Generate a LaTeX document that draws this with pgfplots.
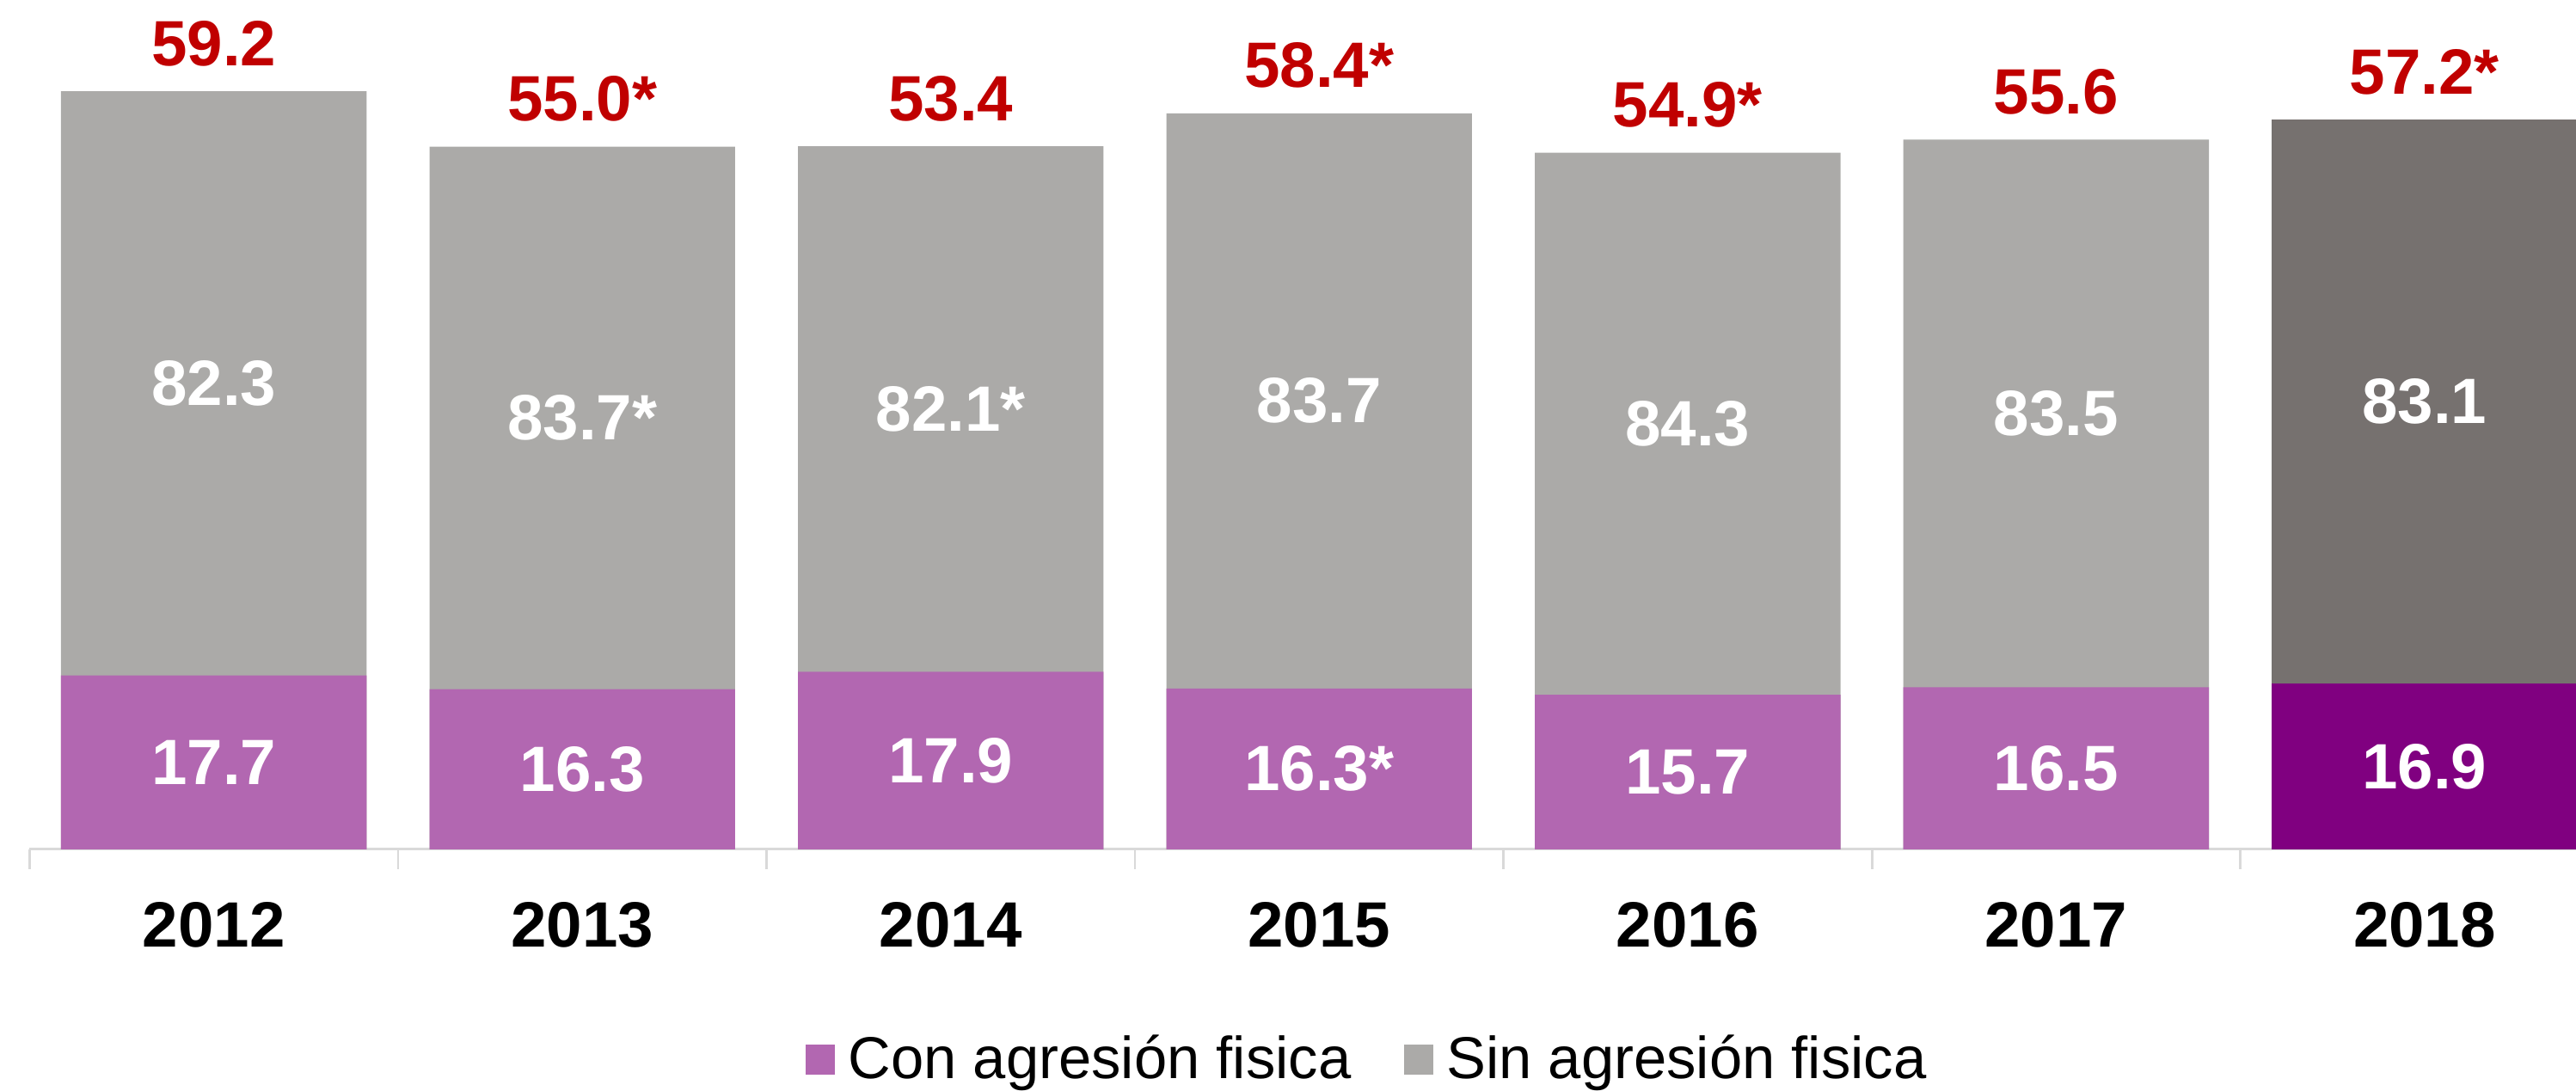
\documentclass[border=0pt]{standalone}
\usepackage{fontspec}
\setmainfont{Liberation Sans}
\usepackage{pgfplots}
\pgfplotsset{compat=1.18}
\definecolor{pinkc}{HTML}{B267B1}
\definecolor{purpc}{HTML}{800080}
\definecolor{grayc}{HTML}{ABAAA8}
\definecolor{darkc}{HTML}{76716F}
\definecolor{redc}{HTML}{C00000}
\definecolor{axgray}{HTML}{D9D9D9}
\newcommand{\lblfont}{\bfseries\fontsize{19.5}{20}\selectfont}
\pgfplotsset{
  mybar/.style={ybar,bar width=93pt,bar shift=0pt,draw=none,forget plot},
  lbl/.style={draw=none,forget plot,nodes near coords,point meta=explicit symbolic},
}

\begin{document}
\begin{tikzpicture}
\begin{axis}[
  scale only axis,width=775pt,height=258.5pt,
  xmin=-0.5,xmax=6.411,ymin=0,ymax=66.33,
  enlargelimits=false,
  axis x line*=bottom,axis y line=none,
  x axis line style={-},
  axis line style={draw=axgray,line width=0.75pt},
  xtick={0,...,6},
  xticklabels={2012,2013,2014,2015,2016,2017,2018},
  xticklabel style={font=\lblfont,inner sep=0pt,yshift=-16pt},
  major tick length=0pt,
  xtick align=outside,
  extra x ticks={-0.5,0.5,1.5,2.5,3.5,4.5,5.5},
  extra x tick labels={},
  extra x tick style={major tick length=6pt,tick style={draw=axgray,line width=0.75pt}},
  ytick=\empty,
  legend columns=2,
  legend image code/.code={\fill[#1] (0pt,-4.5pt) rectangle (9pt,4.5pt);},
  legend style={draw=none,fill=none,inner sep=0pt,anchor=west,
    at={(axis description cs:0.3045,-0.2476)},
    font=\fontsize{18}{20}\selectfont,
    nodes={inner xsep=0pt},
    /tikz/every odd column/.style={column sep=4pt},
    /tikz/every even column/.style={column sep=16pt}},
]
% total height of each bar (grey part drawn underneath)
\addplot[mybar,fill=grayc] coordinates {(0,59.20) (1,54.88) (2,54.91) (3,57.48) (4,54.40) (5,55.43)};
\addplot[mybar,fill=darkc] coordinates {(6,57.00)};
% lower part: con agresion fisica
\addplot[mybar,fill=pinkc] coordinates {(0,13.57) (1,12.50) (2,13.86) (3,12.55) (4,12.06) (5,12.66)};
\addplot[mybar,fill=purpc] coordinates {(6,12.93)};

% labels inside the bars
\addplot[lbl,every node near coord/.style={anchor=center,font=\lblfont,text=white}]
  coordinates {(0,6.79)[17.7] (1,6.25)[16.3] (2,6.93)[17.9] (3,6.28)[16.3*]
               (4,6.03)[15.7] (5,6.33)[16.5] (6,6.47)[16.9]};
\addplot[lbl,every node near coord/.style={anchor=center,font=\lblfont,text=white}]
  coordinates {(0,36.39)[82.3] (1,33.69)[83.7*] (2,34.39)[82.1*] (3,35.02)[83.7]
               (4,33.23)[84.3] (5,34.05)[83.5] (6,34.97)[83.1]};
% totals above the bars
\addplot[lbl,every node near coord/.style={anchor=base,yshift=7.8pt,inner sep=0pt,font=\lblfont,text=redc}]
  coordinates {(0,59.20)[59.2] (1,54.88)[55.0*] (2,54.91)[53.4] (3,57.48)[58.4*]
               (4,54.40)[54.9*] (5,55.43)[55.6] (6,57.00)[57.2*]};

\addlegendimage{fill=pinkc,draw=none}
\addlegendentry{Con agresión fisica}
\addlegendimage{fill=grayc,draw=none}
\addlegendentry{Sin agresión fisica}
\end{axis}
\pgfresetboundingbox
\path ([shift={(-9pt,-73.5pt)}]current axis.south west) rectangle (current axis.north east);
\end{tikzpicture}
\end{document}
